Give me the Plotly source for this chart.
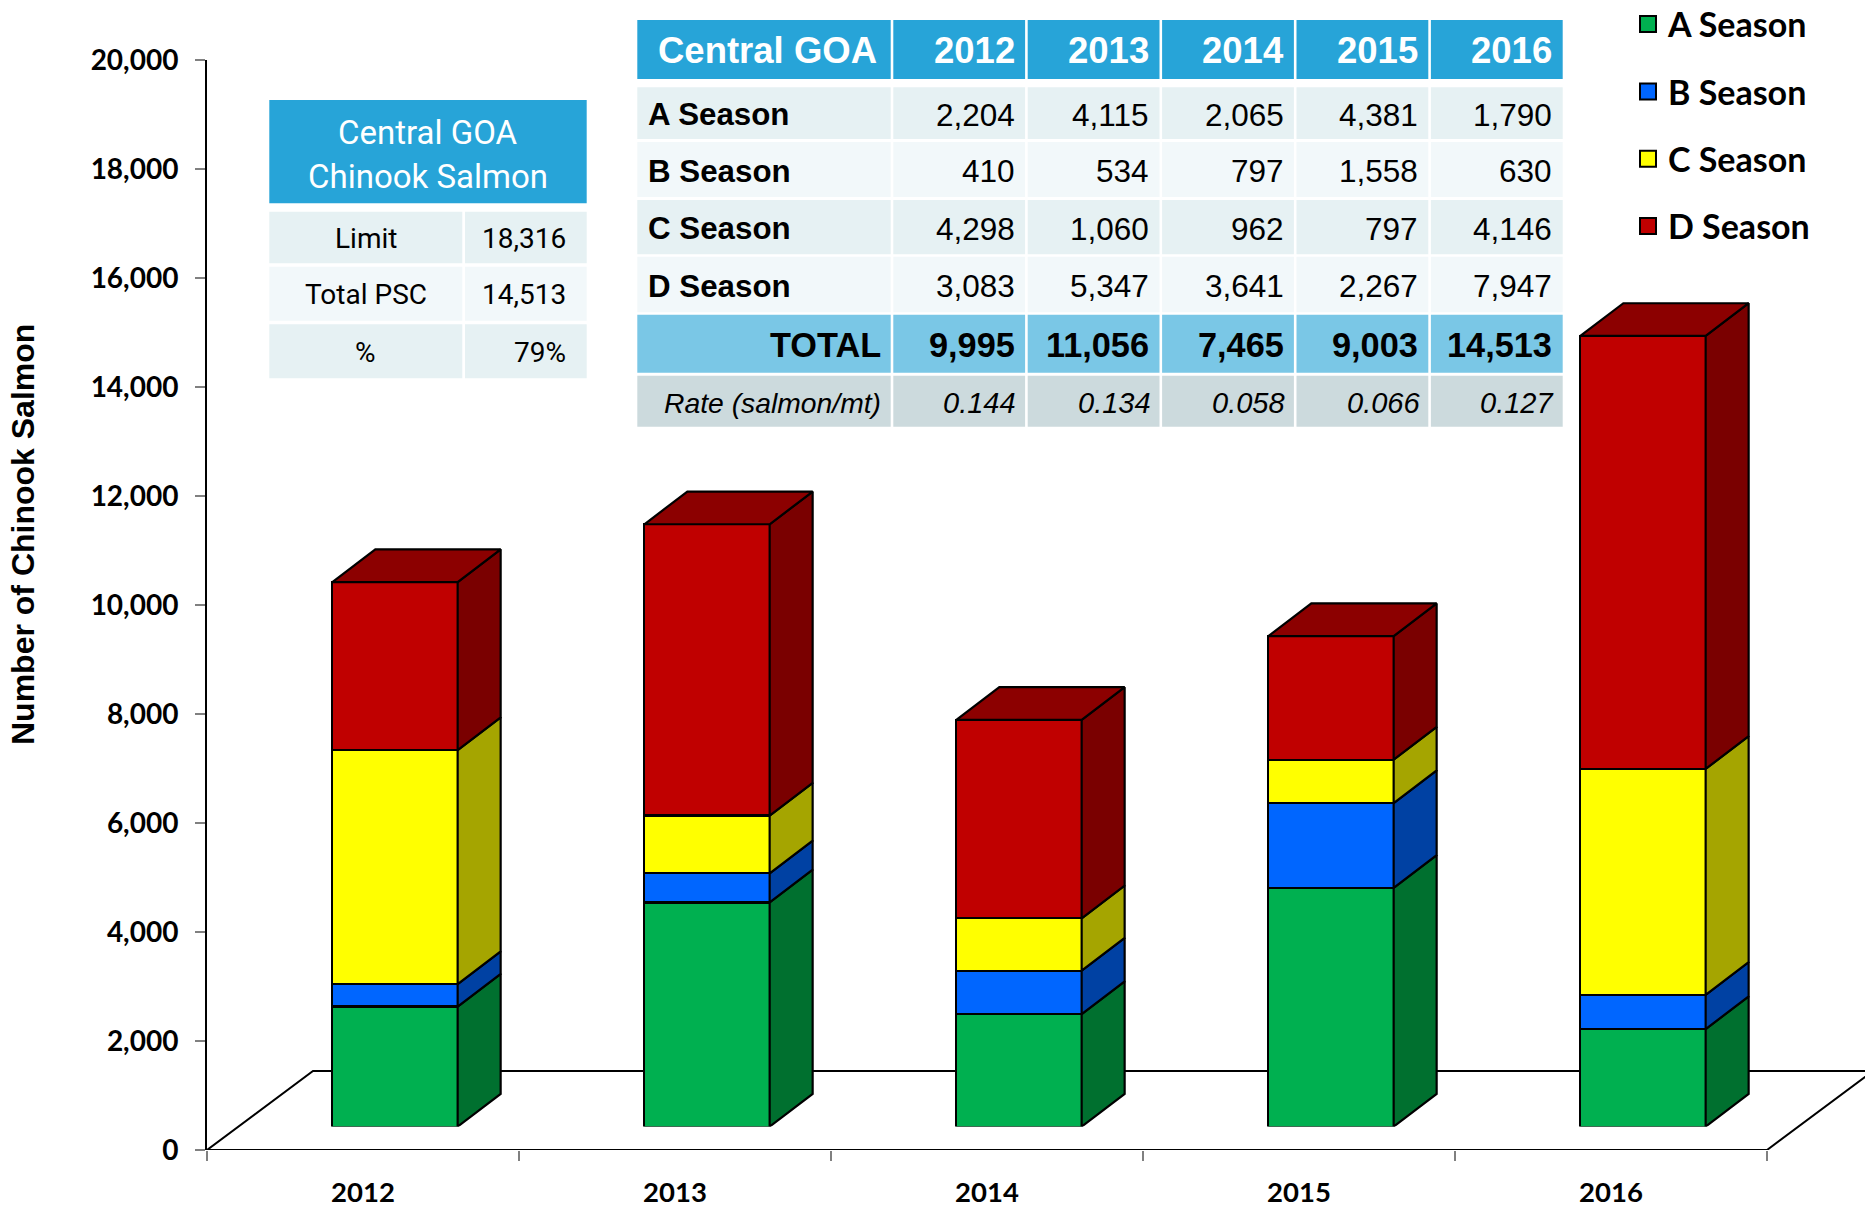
import plotly.graph_objects as go

# ---------------- data ----------------
years = ["2012", "2013", "2014", "2015", "2016"]
season_names = ["A Season", "B Season", "C Season", "D Season"]
a_season = [2204, 4115, 2065, 4381, 1790]
b_season = [410, 534, 797, 1558, 630]
c_season = [4298, 1060, 962, 797, 4146]
d_season = [3083, 5347, 3641, 2267, 7947]
rates = [0.144, 0.134, 0.058, 0.066, 0.127]
psc_limit = 18316
y_ticks = list(range(0, 20001, 2000))

series = [a_season, b_season, c_season, d_season]
totals = [sum(v) for v in zip(*series)]
psc_total = totals[-1]

# ---------------- style ----------------
front_colors = ["#00B050", "#0066FF", "#FFFF00", "#C00000"]
side_colors = ["#00702F", "#0041A3", "#A5A500", "#7A0000"]
top_colors = ["#008A3E", "#0052CC", "#CCCC00", "#8C0000"]

HEADER_BLUE = "#27A4D8"
ROW_DARK = "#E6F1F3"
ROW_LIGHT = "#F2F8FA"
TOTAL_BLUE = "#7AC7E6"
RATE_GREY = "#CCDADD"

ARIAL = "Liberation Sans, Arial, sans-serif"
NARROW = "Liberation Sans Narrow, Arial Narrow, Roboto, sans-serif"
CALIBRI = "Lato, Carlito, Calibri, sans-serif"

W, H = 1865, 1207
X0 = 207                 # pixel column of x = -0.5 on the front plane
CAT = 312                # pixels per category
Y0 = 1150                # pixel row of y = 0 on the front plane
PXU = 1089.6 / 20000     # pixels per salmon
PLANE_DX, PLANE_DY = 32, 23.4          # bar plane sits behind the front plane
BAR_W = 125.3 / CAT
DEPTH_DX, DEPTH_DY = 43 / CAT, 32.7 / PXU
FLOOR_DX, FLOOR_DY = 106 / CAT, 79 / PXU
EDGE = 2.2

n = len(years)
xs = list(range(n))


def px(x):
    return x / W


def py(y):
    return 1 - y / H


fig = go.Figure()

# ---------------- floor of the 3-D plot (front plane) ----------------
fig.add_trace(go.Scatter(
    x=[-0.5, n - 0.5, n - 0.5 + FLOOR_DX, -0.5 + FLOOR_DX, -0.5],
    y=[0, 0, FLOOR_DY, FLOOR_DY, 0],
    mode="lines", line=dict(color="black", width=2),
    cliponaxis=False, hoverinfo="skip", showlegend=False,
    xaxis="x", yaxis="y"))

# ---------------- stacked 3-D bars (bar plane) ----------------
bases = [0] * n
for k, vals in enumerate(series):
    fig.add_trace(go.Bar(
        x=xs, y=vals, base=bases[:], width=BAR_W,
        marker=dict(color=front_colors[k], line=dict(color="black", width=EDGE)),
        cliponaxis=False, hoverinfo="skip", showlegend=False,
        xaxis="x2", yaxis="y2"))
    sx, sy = [], []
    for i in xs:
        xr = i + BAR_W / 2
        lo, hi = bases[i], bases[i] + vals[i]
        sx += [xr, xr + DEPTH_DX, xr + DEPTH_DX, xr, xr, None]
        sy += [lo, lo + DEPTH_DY, hi + DEPTH_DY, hi, lo, None]
    fig.add_trace(go.Scatter(
        x=sx, y=sy, mode="lines", fill="toself", fillcolor=side_colors[k],
        line=dict(color="black", width=EDGE), cliponaxis=False,
        hoverinfo="skip", showlegend=False, xaxis="x2", yaxis="y2"))
    bases = [b + v for b, v in zip(bases, vals)]

# lids on the top-most segment
tx, ty = [], []
for i in xs:
    xl, xr = i - BAR_W / 2, i + BAR_W / 2
    t = totals[i]
    tx += [xl, xr, xr + DEPTH_DX, xl + DEPTH_DX, xl, None]
    ty += [t, t, t + DEPTH_DY, t + DEPTH_DY, t, None]
fig.add_trace(go.Scatter(
    x=tx, y=ty, mode="lines", fill="toself", fillcolor=top_colors[-1],
    line=dict(color="black", width=EDGE), cliponaxis=False,
    hoverinfo="skip", showlegend=False, xaxis="x2", yaxis="y2"))

# ---------------- legend entries ----------------
for k, name in enumerate(season_names):
    fig.add_trace(go.Scatter(
        x=[None], y=[None], mode="markers", name=name, legendgroup=name,
        marker=dict(symbol="square", size=20, color=front_colors[k],
                    line=dict(color="black", width=2)),
        xaxis="x", yaxis="y"))

# ---------------- helpers for the tables ----------------
def cell(x0, x1, y0, y1, color):
    fig.add_shape(type="rect", xref="paper", yref="paper",
                  x0=px(x0), x1=px(x1), y0=py(y1), y1=py(y0),
                  fillcolor=color, line=dict(width=0), layer="above")


def label(text, x, y, anchor, font):
    fig.add_annotation(xref="paper", yref="paper", x=px(x), y=py(y),
                       xanchor=anchor, yanchor="middle", text=text,
                       showarrow=False, font=font, borderpad=0)


def fnt(size, family=ARIAL, color="black", weight="normal", style="normal"):
    return dict(family=family, size=size, color=color, weight=weight, style=style)


# ---------------- season table ----------------
T_X0, FIRST_W, COL_W, COL_PITCH = 637.3, 253.4, 131.8, 134.4
col_edges = [(T_X0, T_X0 + FIRST_W)]
for j in range(n):
    c0 = T_X0 + FIRST_W + 2.6 + j * COL_PITCH
    col_edges.append((c0, c0 + COL_W))

row_tops = [20, 87.3, 142, 200, 256.7, 314.7, 375.7]
row_bots = [79, 139, 197, 254.3, 312.3, 372.7, 426.7]

table_rows = [["Central GOA"] + years]
for name, vals in zip(season_names, series):
    table_rows.append([name] + [f"{v:,}" for v in vals])
table_rows.append(["TOTAL"] + [f"{t:,}" for t in totals])
table_rows.append(["Rate (salmon/mt)"] + [f"{r:.3f}" for r in rates])

row_style = [
    dict(fill=HEADER_BLUE, lab=("left", 19.4, fnt(36.5, color="white", weight="bold")),
         val=(9.3, fnt(36.5, color="white", weight="bold"))),
    dict(fill=ROW_DARK, lab=("left", 9.4, fnt(31.3, weight="bold")), val=(9.3, fnt(31.5))),
    dict(fill=ROW_LIGHT, lab=("left", 9.4, fnt(31.3, weight="bold")), val=(9.3, fnt(31.5))),
    dict(fill=ROW_DARK, lab=("left", 9.4, fnt(31.3, weight="bold")), val=(9.3, fnt(31.5))),
    dict(fill=ROW_LIGHT, lab=("left", 9.4, fnt(31.3, weight="bold")), val=(9.3, fnt(31.5))),
    dict(fill=TOTAL_BLUE, lab=("right", 9, fnt(34.3, weight="bold")),
         val=(9.3, fnt(34.3, weight="bold"))),
    dict(fill=RATE_GREY, lab=("right", 8.4, fnt(28.3, style="italic")),
         val=(7.7, fnt(29, style="italic"))),
]

for r, row in enumerate(table_rows):
    st = row_style[r]
    y0, y1 = row_tops[r], row_bots[r]
    yc = (y0 + y1) / 2 + 1.5
    for c, text in enumerate(row):
        x0, x1 = col_edges[c]
        cell(x0, x1, y0, y1, st["fill"])
        if c == 0:
            anchor, pad, f = st["lab"]
            label(text, x0 + pad if anchor == "left" else x1 - pad, yc, anchor, f)
        else:
            pad, f = st["val"]
            label(text, x1 - pad, yc, "right", f)

# ---------------- PSC limit table ----------------
S_X0, S_X1, S_MID0, S_MID1 = 269.3, 586.7, 462.3, 465.0
cell(S_X0, S_X1, 100, 203.3, HEADER_BLUE)
header_lines = ["Central GOA", "Chinook Salmon"]
for line, yc in zip(header_lines, [133, 177]):
    label(line, (S_X0 + S_X1) / 2, yc, "center", fnt(33, family=NARROW, color="white"))

psc_rows = [("Limit", f"{psc_limit:,}"),
            ("Total PSC", f"{psc_total:,}"),
            ("%", f"{psc_total / psc_limit:.0%}")]
psc_tops = [211.7, 266.7, 324.3]
psc_bots = [263.3, 320.7, 378.3]
psc_fill = [ROW_DARK, ROW_LIGHT, ROW_DARK]
for (name, value), y0, y1, fc in zip(psc_rows, psc_tops, psc_bots, psc_fill):
    cell(S_X0, S_MID0, y0, y1, fc)
    cell(S_MID1, S_X1, y0, y1, fc)
    yc = (y0 + y1) / 2 + 1
    label(name, (S_X0 + S_MID0) / 2, yc, "center", fnt(28, family=NARROW))
    label(value, S_X1 - 19.4, yc, "right", fnt(28, family=NARROW))

# ---------------- axis title ----------------
fig.add_annotation(xref="paper", yref="paper", x=px(23), y=py(535),
                   xanchor="center", yanchor="middle", textangle=-90,
                   text="Number of Chinook Salmon", showarrow=False,
                   font=fnt(32, weight="bold"))

# ---------------- layout ----------------
tick_font = dict(family=CALIBRI, size=28, color="black", weight="bold")
fig.update_layout(
    width=W, height=H, margin=dict(l=0, r=0, t=0, b=0, autoexpand=False),
    paper_bgcolor="white", plot_bgcolor="rgba(0,0,0,0)",
    barmode="stack",
    xaxis=dict(domain=[X0 / W, 1], range=[-0.5, -0.5 + (W - X0) / CAT],
               tickmode="array", tickvals=xs, ticktext=years, ticks="",
               tickfont=dict(tick_font, size=27.5), ticklabelstandoff=23,
               showline=False, showgrid=False, zeroline=False, automargin=False,
               minor=dict(tickmode="array", tickvals=[i - 0.5 for i in range(n + 1)],
                          ticks="outside", ticklen=10, tickwidth=1.5,
                          tickcolor="#808080", showgrid=False)),
    yaxis=dict(domain=[(H - Y0) / H, (H - Y0 + 20000 * PXU) / H], range=[0, 20000],
               tickmode="array", tickvals=y_ticks,
               ticktext=[f"{v:,}" for v in y_ticks],
               ticks="outside", ticklen=10, tickwidth=1.5, tickcolor="#808080",
               tickfont=tick_font, ticklabelstandoff=11,
               showline=True, linecolor="black", linewidth=2,
               showgrid=False, zeroline=False, automargin=False),
    xaxis2=dict(domain=[(X0 + PLANE_DX) / W, 1],
                range=[-0.5, -0.5 + (W - X0 - PLANE_DX) / CAT],
                anchor="y2", visible=False),
    yaxis2=dict(domain=[(H - Y0 + PLANE_DY) / H, 1],
                range=[0, (Y0 - PLANE_DY) / PXU],
                anchor="x2", visible=False),
    legend=dict(x=px(1628), y=py(-4.5), xanchor="left", yanchor="top",
                font=dict(family=CALIBRI, size=34, color="black", weight="bold"),
                traceorder="grouped", tracegroupgap=20.1, itemsizing="trace",
                bgcolor="rgba(0,0,0,0)", borderwidth=0),
    showlegend=True,
)

fig.write_html("out.html", config={"displayModeBar": False})
